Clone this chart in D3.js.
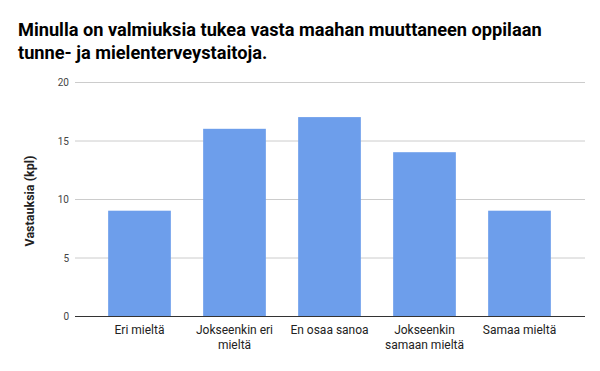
<!DOCTYPE html>
<html>
<head>
<meta charset="utf-8">
<script src="https://cdn.jsdelivr.net/npm/d3@7"></script>
<style>
  body { margin: 0; background: #fff; }
  text { font-family: Roboto, sans-serif; }
</style>
</head>
<body>
<div class="chart"></div>
<script>
const titleLines = ['Minulla on valmiuksia tukea vasta maahan muuttaneen oppilaan', 'tunne- ja mielenterveystaitoja.'];
const categories = ['Eri mieltä', 'Jokseenkin eri mieltä', 'En osaa sanoa', 'Jokseenkin samaan mieltä', 'Samaa mieltä'];
const categoryLines = [['Eri mieltä'], ['Jokseenkin eri', 'mieltä'], ['En osaa sanoa'], ['Jokseenkin', 'samaan mieltä'], ['Samaa mieltä']];
const values = [9, 16, 17, 14, 9];
const yTicks = [0, 5, 10, 15, 20];
const yLabel = 'Vastauksia (kpl)';

const width = 600, height = 371;
const svg = d3.select('.chart').append('svg')
    .attr('width', width)
    .attr('height', height);

svg.append('rect').attr('width', width).attr('height', height).attr('fill', '#fff');

// title
svg.append('text')
    .attr('font-size', 18.2)
    .attr('font-weight', 'bold')
    .attr('fill', '#000')
    .selectAll('tspan')
    .data(titleLines)
    .join('tspan')
    .attr('x', 18)
    .attr('y', (d, i) => 36 + i * 23)
    .text(d => d);

const x = d3.scaleBand()
    .domain(categories)
    .range([92, 567])
    .paddingInner(0.34)
    .paddingOuter(0.17);

const y = d3.scaleLinear()
    .domain([0, 20])
    .range([316, 82]);

// gridlines
svg.append('g')
    .selectAll('line')
    .data(yTicks.filter(d => d > 0))
    .join('line')
    .attr('x1', 75).attr('x2', 585)
    .attr('y1', d => y(d) + 0.5).attr('y2', d => y(d) + 0.5)
    .attr('stroke', '#cccccc');

// y tick labels
svg.append('g')
    .selectAll('text')
    .data(yTicks)
    .join('text')
    .attr('x', 69)
    .attr('y', d => y(d) + 4)
    .attr('text-anchor', 'end')
    .attr('font-size', 10)
    .attr('fill', '#444')
    .text(d => d);

// bars
svg.append('g')
    .selectAll('rect')
    .data(values)
    .join('rect')
    .attr('x', (d, i) => x(categories[i]))
    .attr('y', d => y(d))
    .attr('width', x.bandwidth())
    .attr('height', d => y(0) - y(d))
    .attr('fill', '#6d9eeb');

// baseline
svg.append('line')
    .attr('x1', 75).attr('x2', 585)
    .attr('y1', y(0) + 0.5).attr('y2', y(0) + 0.5)
    .attr('stroke', '#333');

// x labels
svg.append('g')
    .selectAll('text')
    .data(categoryLines)
    .join('text')
    .attr('text-anchor', 'middle')
    .attr('font-size', 12)
    .attr('fill', '#222')
    .each(function(lines, i) {
        d3.select(this).selectAll('tspan')
            .data(lines)
            .join('tspan')
            .attr('x', x(categories[i]) + x.bandwidth() / 2)
            .attr('y', (d, j) => 334 + j * 15)
            .text(d => d);
    });

// y axis title
svg.append('text')
    .attr('transform', 'translate(34,201) rotate(-90)')
    .attr('text-anchor', 'middle')
    .attr('font-size', 12.5)
    .attr('font-weight', 'bold')
    .attr('fill', '#222')
    .text(yLabel);
</script>
</body>
</html>
